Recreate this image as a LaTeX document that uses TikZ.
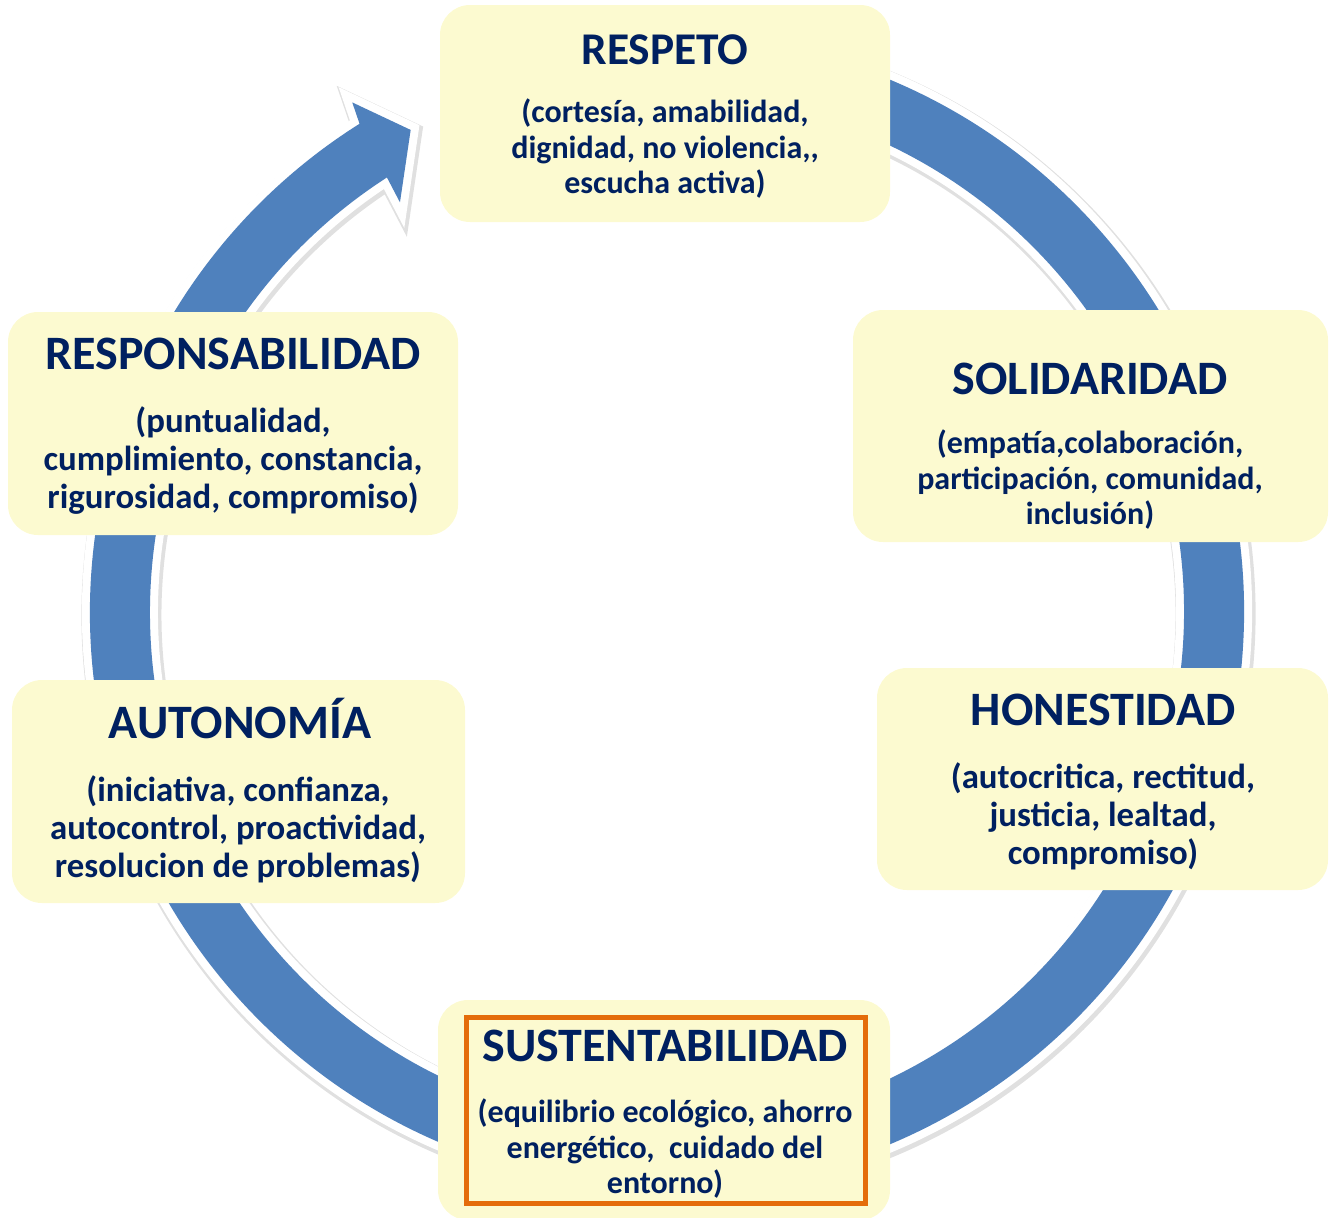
\documentclass[tikz,border=0pt]{standalone}
\usepackage{fontspec}
\setmainfont{Carlito}
\definecolor{ringblue}{RGB}{79,129,189}
\definecolor{boxfill}{RGB}{252,250,208}
\definecolor{navy}{RGB}{0,32,96}
\definecolor{orng}{RGB}{228,108,10}
\tikzset{
  valbox/.style={fill=boxfill, draw=none, rounded corners=15pt, inner sep=0pt},
  ttl/.style={font=\bfseries\fontsize{24}{28}\selectfont, text=navy, inner sep=0pt, anchor=base},
  bodytxt/.style={font=\bfseries\fontsize{16}{17.75}\selectfont, text=navy, align=center, inner sep=0pt},
  bodybig/.style={font=\bfseries\fontsize{17.4}{19}\selectfont, text=navy, align=center, inner sep=0pt},
}
\begin{document}
\begin{tikzpicture}[x=0.5pt,y=-0.5pt]
\useasboundingbox (0,0) rectangle (1333,1217);
% ring arrow
\begin{scope}[shift={(667,612)},x=0.5pt,y=0.5pt]
  \def\ringpath{(80:577) arc[start angle=80, end angle=-237.8, radius=577]
    -- (121.7:599) -- (118:546) -- (123.1:489) -- (-237.2:517)
    arc[start angle=-237.2, end angle=80, radius=517] -- cycle}
  \path[draw=black!12, line width=10pt, line join=miter, shift={(1.5,-2.5)}] \ringpath;
  \path[draw=white, line width=8pt, line join=miter] \ringpath;
  \path[fill=ringblue] \ringpath;
\end{scope}
% boxes
\node[valbox, minimum width=225pt, minimum height=108.5pt] (respeto) at (665,113.5) {};
\node[valbox, minimum width=237.5pt, minimum height=116pt] (solid) at (1090.5,426) {};
\node[valbox, minimum width=225.5pt, minimum height=111pt] (hones) at (1102.5,779) {};
\node[valbox, minimum width=226pt, minimum height=110pt] (susten) at (664,1110) {};
\node[valbox, minimum width=226.5pt, minimum height=111.5pt] (auton) at (238.5,791.5) {};
\node[valbox, minimum width=225pt, minimum height=111.5pt] (respon) at (233,423.5) {};
\node[draw=orng, line width=2.5pt, minimum width=199.5pt, minimum height=93pt, inner sep=0pt] (sustframe) at (666,1110.5) {};
% titles
\node[ttl, font=\bfseries\fontsize{22.7}{26}\selectfont] (t1) at (665,64) {RESPETO};
\node[ttl] (t2) at (1090,394) {SOLIDARIDAD};
\node[ttl] (t3) at (1103,725) {HONESTIDAD};
\node[ttl] (t4) at (665,1061) {SUSTENTABILIDAD};
\node[ttl] (t5) at (240,738) {AUTONOMÍA};
\node[ttl] (t6) at (233,369) {RESPONSABILIDAD};
% bodies
\node[bodytxt] (b1) at (665,149) {(cortesía, amabilidad,\\dignidad, no violencia,\kern0pt,\\escucha activa)};
\node[bodytxt] (b2) at (1090,480) {(empatía,colaboración,\\participación, comunidad,\\inclusión)};
\node[bodybig] (b3) at (1103,816) {(autocritica, rectitud,\\justicia, lealtad,\\compromiso)};
\node[bodytxt] (b4) at (665,1149) {(equilibrio ecológico, ahorro\\energético,\ \ cuidado del\\entorno)};
\node[bodybig] (b5) at (238,829) {(iniciativa, confianza,\\autocontrol, proactividad,\\resolucion de problemas)};
\node[bodybig] (b6) at (233,461) {(puntualidad,\\cumplimiento, constancia,\\rigurosidad, compromiso)};
\end{tikzpicture}
\end{document}
